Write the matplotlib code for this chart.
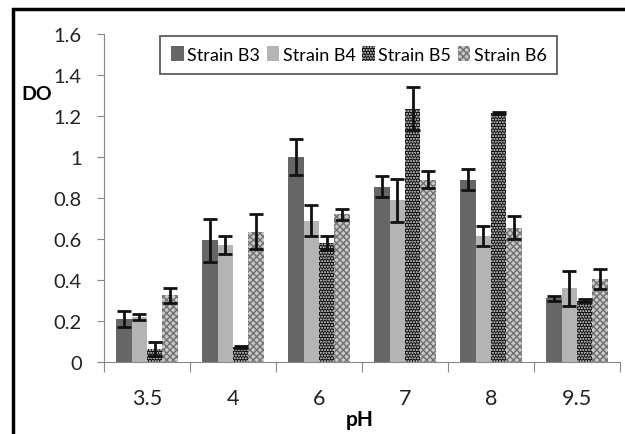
import matplotlib.pyplot as plt
import matplotlib.patches as mpatches
import numpy as np

plt.rcParams['font.family'] = ['Lato', 'DejaVu Sans']
plt.rcParams['hatch.linewidth'] = 1.0

ph = ["3.5", "4", "6", "7", "8", "9.5"]
strains = ["Strain B3", "Strain B4", "Strain B5", "Strain B6"]
b3 = [0.21, 0.595, 1.0, 0.855, 0.89, 0.31]
b4 = [0.22, 0.57, 0.69, 0.79, 0.615, 0.36]
b5 = [0.065, 0.075, 0.58, 1.235, 1.215, 0.30]
b6 = [0.325, 0.635, 0.72, 0.89, 0.655, 0.405]
err_b3 = [0.04, 0.105, 0.09, 0.05, 0.05, 0.01]
err_b4 = [0.015, 0.045, 0.075, 0.105, 0.05, 0.085]
err_b5 = [0.035, 0.005, 0.035, 0.105, 0.005, 0.005]
err_b6 = [0.035, 0.085, 0.025, 0.04, 0.055, 0.05]

values = [b3, b4, b5, b6]
errors = [err_b3, err_b4, err_b5, err_b6]
styles = [
    dict(color="#666666"),
    dict(color="#b4b4b4"),
    dict(facecolor="#0a0a0a", edgecolor="#e8e8e8", hatch="......", linewidth=0),
    dict(facecolor="#c8c8c8", edgecolor="#707070", hatch="xxxxx", linewidth=0),
]

fig = plt.figure(figsize=(6.25, 4.35), dpi=100)
# frame of the picture (left and top visible)
fig.patches.append(mpatches.Rectangle((13 / 625, -0.1), 1.2, 1 - 10 / 435 + 0.1,
                                      transform=fig.transFigure, fill=False,
                                      edgecolor="black", linewidth=2.5))
ax = fig.add_axes([104 / 625, 72 / 435, 516 / 625, 328 / 435])

x = np.arange(len(ph))
w = 0.18
for i, (vals, errs, st) in enumerate(zip(values, errors, styles)):
    ax.bar(x + (i - 1.5) * w, vals, w, label=strains[i], **st)
    ax.errorbar(x + (i - 1.5) * w, vals, yerr=errs, fmt="none", ecolor="#111111",
                elinewidth=2, capsize=5, capthick=2)

ax.set_xlim(-0.5, 5.5)
ax.set_ylim(0, 1.6)
ax.set_yticks(np.arange(0, 1.61, 0.2))
ax.set_yticklabels(["0", "0.2", "0.4", "0.6", "0.8", "1", "1.2", "1.4", "1.6"])
ax.set_xticks(np.arange(-0.5, 6, 1))
ax.set_xticklabels([])
ax.set_xticks(x, minor=True)
ax.set_xticklabels(ph, minor=True)
ax.tick_params(axis="x", which="major", length=7, color="#888888", direction="out")
ax.tick_params(axis="x", which="minor", length=0, pad=19, labelsize=15.5, labelcolor="#222222")
ax.tick_params(axis="y", length=5, color="#888888", labelsize=14.5, labelcolor="#222222", pad=11)

for s in ["top", "right"]:
    ax.spines[s].set_visible(False)
for s in ["left", "bottom"]:
    ax.spines[s].set_color("#888888")

fig.text(360 / 625, 1 - 420 / 435, "pH", ha="center", va="center", fontsize=15, fontweight="bold")
fig.text(37 / 625, 1 - 95 / 435, "DO", ha="center", va="center", fontsize=14, fontweight="bold")

leg = ax.legend(loc="upper center", bbox_to_anchor=(0.494, 0.995), ncol=4, fontsize=13,
                handlelength=0.7, handleheight=0.9, handletextpad=0.2, columnspacing=0.35,
                fancybox=False, borderpad=0.6, borderaxespad=0)
leg.get_frame().set_edgecolor("#333333")
leg.get_frame().set_linewidth(1.3)

fig.savefig("out.png", dpi=100)
